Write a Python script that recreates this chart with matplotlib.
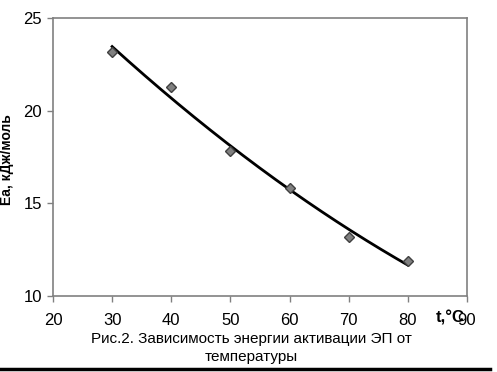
import numpy as np
import matplotlib
matplotlib.use("Agg")
import matplotlib.pyplot as plt
from matplotlib.lines import Line2D

plt.rcParams['font.family'] = ['Liberation Sans', 'DejaVu Sans']

temps = [30, 40, 50, 60, 70, 80]
ea = [23.15, 21.3, 17.85, 15.85, 13.2, 11.9]
x_ticks = [20, 30, 40, 50, 60, 70, 80, 90]
y_ticks = [10, 15, 20, 25]

fig = plt.figure(figsize=(4.97, 3.72), dpi=100)
ax = fig.add_axes([0.1066, 0.2043, 0.833, 0.7473])

coef = np.polyfit(temps, ea, 2)
xs = np.linspace(min(temps), max(temps), 200)
ax.plot(xs, np.polyval(coef, xs), color='black', lw=2, zorder=2)
ax.plot(temps, ea, linestyle='none', marker='D', markersize=5.5,
        markerfacecolor='#808080', markeredgecolor='#404040', markeredgewidth=1, zorder=3)

ax.set_xlim(20, 90)
ax.set_ylim(10, 25)
ax.set_xticks(x_ticks)
ax.set_yticks(y_ticks)
ax.set_xticklabels([str(v) for v in x_ticks])
ax.set_yticklabels([str(v) for v in y_ticks])
ax.tick_params(axis='both', direction='out', length=4, color='#808080', labelsize=12, width=1)
ax.tick_params(axis='x', pad=8)
ax.tick_params(axis='y', pad=4)
for s in ax.spines.values():
    s.set_color('#808080')
    s.set_linewidth(1.2)

ax.set_ylabel('Ea, кДж/моль', fontsize=10, fontweight='bold')
ax.yaxis.set_label_coords(-0.094, 0.49)

fig.text(0.905, 0.145, 't,°C', fontsize=12, fontweight='bold', ha='center', va='center')
fig.text(0.505, 0.09, 'Рис.2. Зависимость энергии активации ЭП от', fontsize=11, ha='center', va='center')
fig.text(0.505, 0.04, 'температуры', fontsize=11, ha='center', va='center')

fig.add_artist(Line2D([0, 0.985], [0.008, 0.008], color='black', lw=2.5, transform=fig.transFigure))

fig.savefig('out.png', dpi=100)
